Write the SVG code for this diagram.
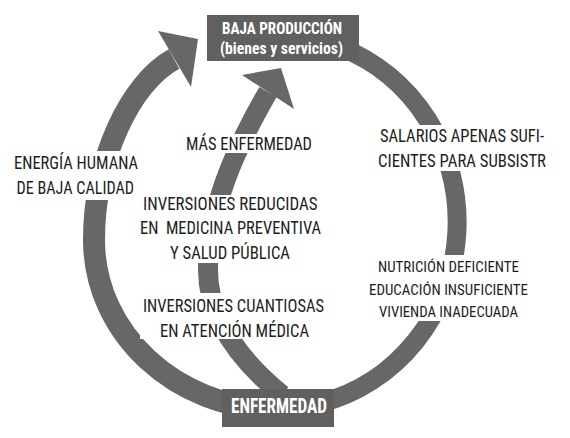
<svg xmlns="http://www.w3.org/2000/svg" width="570" height="438" viewBox="0 0 570 438">
<style>
.arc{fill:none;stroke:#676767;stroke-linecap:butt}
.head{fill:#676767}
.box{fill:#606060}
.mask{fill:#ffffff}
.lbl{font-family:"Liberation Sans Narrow","Roboto Condensed","DejaVu Sans Condensed","Liberation Sans",sans-serif;font-size:18px;fill:#1e1e1e}
.sm{font-size:15.5px}
.btxt{font-family:"Liberation Sans Narrow","Roboto Condensed","DejaVu Sans Condensed","Liberation Sans",sans-serif;font-weight:bold;fill:#ffffff}
</style>
<rect width="570" height="438" fill="#ffffff"/>
<g id="connectors">
  <path class="arc" stroke-width="19" d="M340,47 A181,187 0 0 1 320,403.4"/>
  <path class="arc" stroke-width="22" d="M276,409 C176,409 94,333 94,240 C94,160 130,83 174,59"/>
  <polygon class="head" points="158,31 198,39 191,87"/>
  <path class="arc" stroke-width="20" d="M282,395 C242,362 208,320 208,270 C208,200 245.5,131 268,92"/>
  <polygon class="head" points="242,75 281,68 294,109"/>
</g>
<g id="label-energia">
  <rect class="mask" x="10" y="151" width="132" height="49"/>
  <text class="lbl" x="14" y="169" textLength="124" lengthAdjust="spacingAndGlyphs">ENERGÍA HUMANA</text>
  <text class="lbl" x="16.5" y="194" textLength="117.5" lengthAdjust="spacingAndGlyphs">DE BAJA CALIDAD</text>
</g>
<g id="label-mas">
  <rect class="mask" x="183" y="134" width="133" height="19"/>
  <text class="lbl" x="186" y="150" textLength="126" lengthAdjust="spacingAndGlyphs">MÁS ENFERMEDAD</text>
</g>
<g id="label-reducidas">
  <rect class="mask" x="137" y="195" width="187" height="68"/>
  <text class="lbl" x="143" y="210" textLength="174.5" lengthAdjust="spacingAndGlyphs">INVERSIONES REDUCIDAS</text>
  <text class="lbl" x="140" y="234" textLength="181" lengthAdjust="spacingAndGlyphs" xml:space="preserve">EN  MEDICINA PREVENTIVA</text>
  <text class="lbl" x="170" y="259" textLength="120" lengthAdjust="spacingAndGlyphs">Y SALUD PÚBLICA</text>
</g>
<g id="label-cuantiosas">
  <rect class="mask" x="140" y="293" width="188" height="46"/>
  <text class="lbl" x="143" y="312" textLength="181" lengthAdjust="spacingAndGlyphs">INVERSIONES CUANTIOSAS</text>
  <text class="lbl" x="160" y="337" textLength="149" lengthAdjust="spacingAndGlyphs">EN ATENCIÓN MÉDICA</text>
</g>
<g id="label-salarios">
  <rect class="mask" x="375" y="125" width="175" height="46"/>
  <text class="lbl" x="380" y="141.7" textLength="164" lengthAdjust="spacingAndGlyphs">SALARIOS APENAS SUFI-</text>
  <text class="lbl" x="378" y="166.7" textLength="168" lengthAdjust="spacingAndGlyphs">CIENTES PARA SUBSISTR</text>
</g>
<g id="label-nutricion">
  <rect class="mask" x="365" y="255" width="167" height="66"/>
  <text class="lbl sm" x="378" y="271.7" textLength="141" lengthAdjust="spacingAndGlyphs">NUTRICIÓN DEFICIENTE</text>
  <text class="lbl sm" x="369" y="295" textLength="159" lengthAdjust="spacingAndGlyphs">EDUCACIÓN INSUFICIENTE</text>
  <text class="lbl sm" x="379" y="316.7" textLength="139" lengthAdjust="spacingAndGlyphs">VIVIENDA INADECUADA</text>
</g>
<g id="node-baja-produccion">
  <rect class="box" x="207" y="15" width="152" height="46"/>
  <text class="btxt" x="222" y="33.7" font-size="16.5" textLength="120" lengthAdjust="spacingAndGlyphs">BAJA PRODUCCIÓN</text>
  <text class="btxt" x="220" y="53.5" font-size="16.5" textLength="123" lengthAdjust="spacingAndGlyphs">(bienes y servicios)</text>
</g>
<g id="node-enfermedad">
  <rect class="box" x="222" y="389" width="112" height="38"/>
  <text class="btxt" x="231" y="412.7" font-size="19.5" textLength="96" lengthAdjust="spacingAndGlyphs">ENFERMEDAD</text>
</g>
</svg>
